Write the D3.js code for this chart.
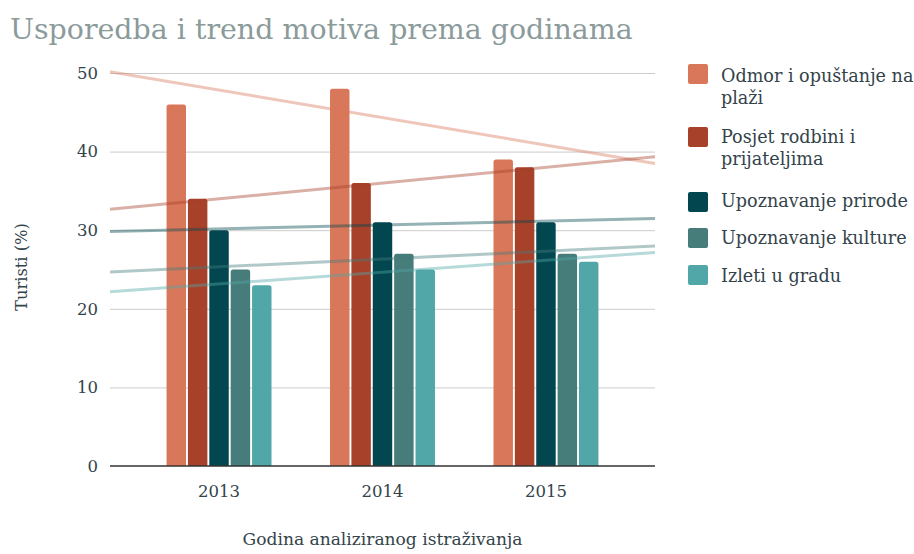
<!DOCTYPE html>
<html>
<head>
<meta charset="utf-8">
<script src="https://cdn.jsdelivr.net/npm/d3@7"></script>
<style>
  html, body { margin: 0; padding: 0; background: #fff; }
  svg { display: block; }
  text { font-family: "DejaVu Serif", Georgia, serif; }
</style>
</head>
<body>
<svg id="chart" width="914" height="554"></svg>
<script>
// ---- data ----
const years = [2013, 2014, 2015];
const seriesNames = [
  "Odmor i opuštanje na plaži",
  "Posjet rodbini i prijateljima",
  "Upoznavanje prirode",
  "Upoznavanje kulture",
  "Izleti u gradu"
];
const odmor = [46, 48, 39];
const posjet = [34, 36, 38];
const priroda = [30, 31, 31];
const kultura = [25, 27, 27];
const izleti = [23, 25, 26];
const yTicks = [0, 10, 20, 30, 40, 50];
const legendLines = [
  ["Odmor i opuštanje na", "plaži"],
  ["Posjet rodbini i", "prijateljima"],
  ["Upoznavanje prirode"],
  ["Upoznavanje kulture"],
  ["Izleti u gradu"]
];
const titleText = "Usporedba i trend motiva prema godinama";
const xTitle = "Godina analiziranog istraživanja";
const yTitle = "Turisti (%)";

const seriesValues = [odmor, posjet, priroda, kultura, izleti];
const colors = ["#d9775b", "#a8412a", "#02474f", "#467d7b", "#51a7a7"];

// ---- layout ----
const svg = d3.select("#chart");
const pLeft = 110, pRight = 655, pTop = 73, pBottom = 466;
const textColor = "#33434a";

const x = d3.scaleLinear().domain([2012.333, 2015.667]).range([pLeft, pRight]);
const y = d3.scaleLinear().domain([0, 50]).range([pBottom, pTop]);
const step = x(2014) - x(2013);
const groupW = step * 0.642;
const inner = d3.scaleBand().domain(d3.range(seriesNames.length))
  .range([-groupW / 2, groupW / 2]).paddingInner(0.09);

function fit(sel, target) {
  const w = sel.node().getComputedTextLength();
  const fs = parseFloat(sel.attr("font-size"));
  sel.attr("font-size", fs * target / w);
  return fs * target / w;
}

// title
const t = svg.append("text").attr("x", 10).attr("y", 39)
  .attr("font-size", 30).attr("fill", "#8b9b9b").text(titleText);
fit(t, 623);

// grid
const yAxis = d3.axisLeft(y).tickValues(yTicks).tickSize(-(pRight - pLeft)).tickPadding(12)
  .tickFormat(d3.format("d"));
const gy = svg.append("g").attr("transform", `translate(${pLeft},0)`).call(yAxis);
gy.select(".domain").remove();
gy.selectAll(".tick line").attr("stroke", "#cccccc").attr("stroke-width", 1);
gy.selectAll(".tick text").attr("fill", textColor).attr("font-size", 16.5)
  .attr("font-family", "DejaVu Serif").attr("x", -12);
gy.selectAll(".tick").filter(d => d === 0).select("line").remove();

// bars
function barPath(x0, y0, w, h, r) {
  r = Math.min(r, h / 2, w / 2);
  return `M${x0},${y0 + h}V${y0 + r}Q${x0},${y0} ${x0 + r},${y0}H${x0 + w - r}Q${x0 + w},${y0} ${x0 + w},${y0 + r}V${y0 + h}Z`;
}
const groups = svg.append("g");
seriesValues.forEach((vals, si) => {
  groups.selectAll(null).data(vals).enter().append("path")
    .attr("d", (v, i) => barPath(x(years[i]) + inner(si), y(v), inner.bandwidth(), y(0) - y(v), 2.5))
    .attr("fill", colors[si]);
});

// baseline
svg.append("line").attr("x1", pLeft).attr("x2", pRight).attr("y1", y(0)).attr("y2", y(0))
  .attr("stroke", "#333").attr("stroke-width", 1.5);

// trend lines (least squares fit of each series)
const line = d3.line().x(d => x(d[0])).y(d => y(d[1]));
seriesValues.forEach((vals, si) => {
  const mx = d3.mean(years), my = d3.mean(vals);
  const slope = d3.sum(years, (yr, i) => (yr - mx) * (vals[i] - my)) / d3.sum(years, yr => (yr - mx) ** 2);
  const f = xv => my + slope * (xv - mx);
  const [d0, d1] = x.domain();
  svg.append("path").datum([[d0, f(d0)], [d1, f(d1)]]).attr("d", line)
    .attr("fill", "none").attr("stroke", colors[si]).attr("stroke-opacity", 0.42)
    .attr("stroke-width", 3);
});

// x ticks
svg.append("g").selectAll(null).data(years).enter().append("text")
  .attr("x", d => x(d)).attr("y", 497).attr("text-anchor", "middle")
  .attr("font-size", 16.5).attr("fill", textColor).text(d => d);

// axis titles
const xtT = svg.append("text").attr("x", (pLeft + pRight) / 2).attr("y", 545).attr("text-anchor", "middle")
  .attr("font-size", 16).attr("fill", textColor).text(xTitle);
fit(xtT, 280);
const ytT = svg.append("text").attr("transform", "translate(27,267) rotate(-90)").attr("text-anchor", "middle")
  .attr("font-size", 16).attr("fill", textColor).text(yTitle);
fit(ytT, 88);

// legend
const squareY = [64, 127, 192, 228, 265];
const baseY = [82, 143, 207, 244, 282];
const lg = svg.append("g");
legendLines.forEach((lines, i) => {
  lg.append("rect").attr("x", 688).attr("y", squareY[i]).attr("width", 20).attr("height", 20)
    .attr("rx", 2).attr("fill", colors[i]);
  const tx = lg.append("text").attr("x", 721).attr("y", baseY[i]).attr("font-size", 16).attr("fill", textColor);
  lines.forEach((l, j) => {
    tx.append("tspan").attr("x", 721).attr("dy", j === 0 ? 0 : 22).text(l);
  });
});
const probe = lg.append("text").attr("font-size", 16).text(legendLines[2][0]);
const fsL = fit(probe, 187);
probe.remove();
lg.selectAll("text").attr("font-size", fsL);
</script>
</body>
</html>
